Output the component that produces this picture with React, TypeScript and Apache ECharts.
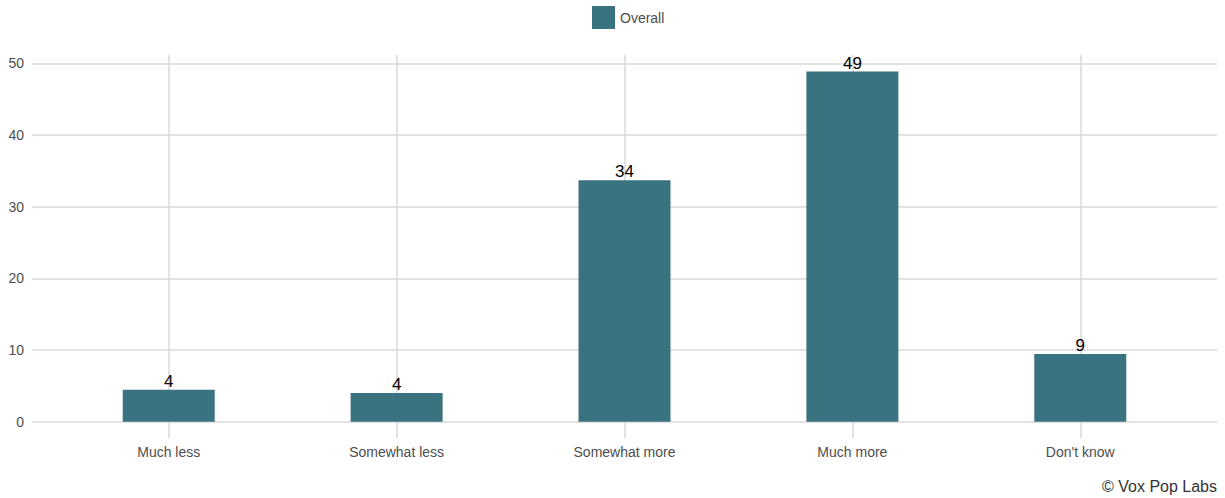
import React, { useEffect, useRef } from "react";
import * as echarts from "echarts";

const categories = ["Much less", "Somewhat less", "Somewhat more", "Much more", "Don't know"];
const overall = [4.45, 4.0, 33.7, 48.85, 9.45];
const valueLabels = ["4", "4", "34", "49", "9"];
const yTicks = [0, 10, 20, 30, 40, 50];
const seriesName = "Overall";
const caption = "© Vox Pop Labs";

const BAR_COLOR = "#3A7380";
const GRID_COLOR = "#D9D9D9";
const TEXT_COLOR = "#4D4D4D";
const FONT = "'Liberation Sans', Arial, Helvetica, sans-serif";

// discrete axis expanded by 0.6 units on each side, sampled in steps of 0.2
const STEPS_PER_CAT = 5;
const PAD = 3;
const slotCount = (categories.length - 1) * STEPS_PER_CAT + 2 * PAD + 1;
const slotLabels: string[] = [];
const slotValues: (number | null)[] = [];
const slotText: string[] = [];
for (let i = 0; i < slotCount; i++) {
  const k = i - PAD;
  if (k >= 0 && k % STEPS_PER_CAT === 0) {
    const c = k / STEPS_PER_CAT;
    slotLabels.push(categories[c]);
    slotValues.push(overall[c]);
    slotText.push(valueLabels[c]);
  } else {
    slotLabels.push("s" + i);
    slotValues.push(null);
    slotText.push("");
  }
}
const isReal = (i: number) => i >= PAD && (i - PAD) % STEPS_PER_CAT === 0 && i - PAD <= (categories.length - 1) * STEPS_PER_CAT;

export default function App() {
  const ref = useRef<HTMLDivElement>(null);
  useEffect(() => {
    if (!ref.current) return;
    const chart = echarts.init(ref.current, null, { renderer: "svg" });
    const option: any = {
      animation: false,
      backgroundColor: "#ffffff",
      textStyle: { fontFamily: FONT },
      legend: {
        show: true,
        left: 592,
        top: 6,
        padding: 0,
        itemWidth: 23,
        itemHeight: 23,
        itemGap: 10,
        icon: "rect",
        textStyle: { color: TEXT_COLOR, fontSize: 14, fontFamily: FONT },
        data: [seriesName],
      },
      graphic: [
        {
          type: "text",
          right: 8,
          top: 478,
          style: { text: caption, fill: "#333333", fontSize: 16, fontFamily: FONT },
        },
      ],
      grid: [
        { left: 32, right: 8, top: 63.3, bottom: 76.3 },
        { left: 32, right: 8, top: 55, bottom: 60 },
      ],
      xAxis: [
        { type: "value", gridIndex: 0, min: 0, max: 1, show: false },
        {
          type: "category",
          gridIndex: 1,
          data: slotLabels,
          boundaryGap: false,
          axisLine: { show: false },
          axisTick: { show: false },
          axisLabel: {
            interval: (i: number) => isReal(i),
            color: TEXT_COLOR,
            fontSize: 14,
            fontFamily: FONT,
            margin: 7,
          },
          splitLine: {
            show: true,
            interval: (i: number) => isReal(i),
            lineStyle: { color: GRID_COLOR, width: 1.5 },
          },
        },
      ],
      yAxis: [
        {
          type: "value",
          gridIndex: 0,
          min: yTicks[0],
          max: yTicks[yTicks.length - 1],
          interval: 10,
          axisLine: { show: false },
          axisTick: { show: false },
          axisLabel: { color: TEXT_COLOR, fontSize: 14, fontFamily: FONT, margin: 8 },
          splitLine: { show: true, lineStyle: { color: GRID_COLOR, width: 1.5 } },
        },
        {
          type: "value",
          gridIndex: 1,
          min: -2.274,
          max: 51.16,
          show: false,
          splitLine: { show: false },
        },
      ],
      series: [
        {
          name: seriesName,
          type: "bar",
          xAxisIndex: 1,
          yAxisIndex: 1,
          data: slotValues,
          barWidth: 92,
          itemStyle: { color: BAR_COLOR },
          label: {
            show: true,
            position: "top",
            distance: 0,
            color: "#000000",
            fontSize: 17,
            fontFamily: FONT,
            formatter: (p: any) => slotText[p.dataIndex],
          },
        },
      ],
    };
    chart.setOption(option);
    return () => chart.dispose();
  }, []);
  return <div ref={ref} style={{ width: 1225, height: 498, position: "absolute", left: 0, top: 0 }} />;
}
